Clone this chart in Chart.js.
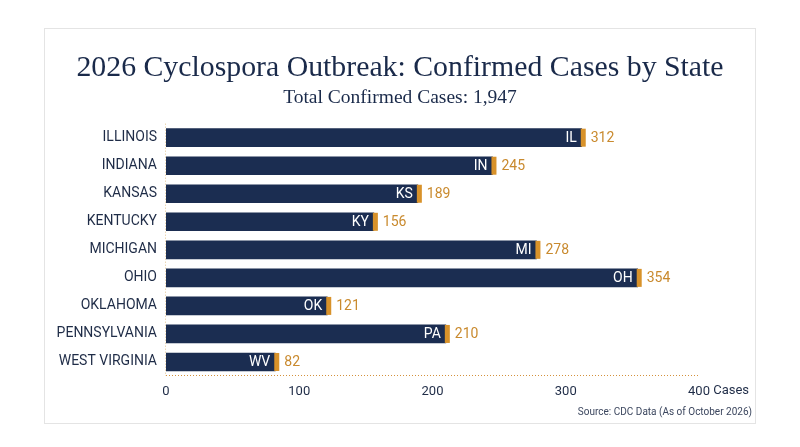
<!DOCTYPE html>
<html>
<head>
<meta charset="utf-8">
<script src="https://cdn.jsdelivr.net/npm/chart.js@4.4.1/dist/chart.umd.min.js"></script>
<style>
  html, body { margin: 0; padding: 0; background: #ffffff; }
  #card {
    position: absolute;
    left: 44px;
    top: 28px;
    width: 712px;
    height: 396px;
    box-sizing: border-box;
    border: 1px solid #e4e4e4;
    background: #ffffff;
  }
</style>
</head>
<body>
<div id="card"><canvas id="chartCanvas"></canvas></div>
<script>
const states = ["ILLINOIS", "INDIANA", "KANSAS", "KENTUCKY", "MICHIGAN", "OHIO", "OKLAHOMA", "PENNSYLVANIA", "WEST VIRGINIA"];
const stateCodes = ["IL", "IN", "KS", "KY", "MI", "OH", "OK", "PA", "WV"];
const confirmedCases = [312, 245, 189, 156, 278, 354, 121, 210, 82];
const xTicks = [0, 100, 200, 300, 400];
const unitLabel = "Cases";
const titleText = "2026 Cyclospora Outbreak: Confirmed Cases by State";
const subtitleText = "Total Confirmed Cases: 1,947";
const sourceText = "Source: CDC Data (As of October 2026)";

const navy = "#1b2d51";
const gold = "#d8922a";
const goldText = "#c98a2e";
const inkText = "#1f2c47";

// dotted axis lines, caps, codes inside the bar, values after it, unit and source line
const barLabels = {
  id: "barLabels",
  beforeDatasetsDraw(chart) {
    const ctx = chart.ctx;
    const area = chart.chartArea;
    ctx.save();
    ctx.lineWidth = 1;
    ctx.setLineDash([1, 2]);
    ctx.strokeStyle = "#e3c48f";
    ctx.beginPath();
    ctx.moveTo(area.left - 0.5, area.top);
    ctx.lineTo(area.left - 0.5, area.bottom);
    ctx.stroke();
    ctx.strokeStyle = "#d4913c";
    ctx.beginPath();
    ctx.moveTo(area.left, area.bottom - 0.5);
    ctx.lineTo(area.right, area.bottom - 0.5);
    ctx.stroke();
    ctx.restore();
  },
  afterDatasetsDraw(chart) {
    const ctx = chart.ctx;
    const meta = chart.getDatasetMeta(0);
    ctx.save();
    meta.data.forEach((bar, i) => {
      const h = bar.height;
      ctx.fillStyle = gold;
      ctx.fillRect(bar.x - 1, bar.y - h / 2, 5, h);

      ctx.font = "14px Roboto";
      ctx.textBaseline = "middle";
      ctx.fillStyle = "#ffffff";
      ctx.textAlign = "right";
      ctx.fillText(stateCodes[i], bar.x - 5, bar.y + 0.5);

      ctx.fillStyle = goldText;
      ctx.textAlign = "left";
      ctx.fillText(confirmedCases[i], bar.x + 9, bar.y + 0.5);
    });
    ctx.restore();
  },
  afterDraw(chart) {
    const ctx = chart.ctx;
    const x = chart.scales.x;
    const last = xTicks[xTicks.length - 1];
    ctx.save();
    ctx.font = "13px Roboto";
    ctx.fillStyle = inkText;
    ctx.textBaseline = "middle";
    ctx.textAlign = "left";
    const half = ctx.measureText(String(last)).width / 2;
    ctx.fillText(" " + unitLabel, x.getPixelForValue(last) + half, x.top + 14.5);

    ctx.font = "10px Roboto";
    ctx.fillStyle = "#3b465e";
    ctx.textAlign = "right";
    ctx.fillText(sourceText, chart.width - 3, chart.height - 11);
    ctx.restore();
  }
};

const ctx = document.getElementById("chartCanvas").getContext("2d");
const chart = new Chart(ctx, {
  type: "bar",
  data: {
    labels: states,
    datasets: [
      {
        data: confirmedCases,
        backgroundColor: navy,
        barThickness: 18,
        borderWidth: 0,
      },
    ],
  },
  options: {
    indexAxis: "y",
    animation: false,
    responsive: true,
    maintainAspectRatio: false,
    layout: { padding: 0 },
    plugins: {
      legend: { display: false },
      tooltip: { enabled: false },
      title: {
        display: true,
        text: titleText,
        color: "#1a2a4a",
        font: { family: "Liberation Serif", size: 29.8, weight: "normal", lineHeight: 1.2 },
        padding: { top: 21, bottom: 0.5 },
      },
      subtitle: {
        display: true,
        text: subtitleText,
        color: "#1a2a4a",
        font: { family: "Liberation Serif", size: 19.5, weight: "normal", lineHeight: 1.2 },
        padding: { top: 0, bottom: 14 },
      },
    },
    scales: {
      x: {
        min: 0,
        max: 400,
        afterBuildTicks(scale) {
          scale.ticks = xTicks.map((v) => ({ value: v }));
        },
        afterFit(scale) {
          scale.height = 47;
        },
        grid: { display: false, drawTicks: false },
        border: { display: false },
        ticks: {
          padding: 8,
          color: inkText,
          font: { family: "Roboto", size: 13 },
        },
      },
      y: {
        afterFit(scale) {
          scale.width = 121;
        },
        grid: { display: false, drawTicks: false },
        border: { display: false },
        ticks: {
          padding: 9,
          color: inkText,
          font: { family: "Roboto", size: 14 },
        },
      },
      // empty right margin so the titles stay centred on the card
      gutter: {
        type: "linear",
        position: "right",
        display: true,
        afterFit(scale) {
          scale.width = 56;
        },
        grid: { display: false, drawTicks: false },
        border: { display: false },
        ticks: { display: false },
      },
    },
  },
  plugins: [barLabels],
});
</script>
</body>
</html>
